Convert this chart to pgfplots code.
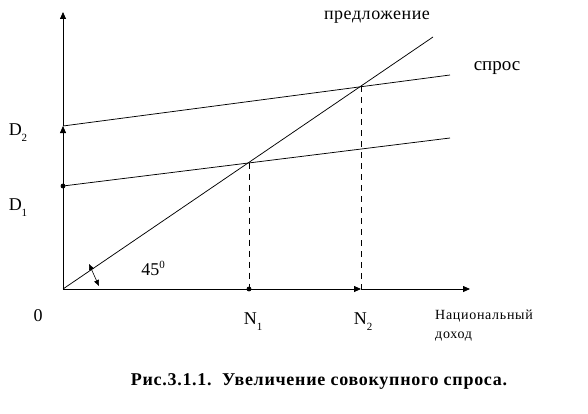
\documentclass[border=0pt]{standalone}
\usepackage{fontspec}
\setmainfont{Liberation Serif}
\usepackage{pgfplots}
\pgfplotsset{compat=1.18}
\usetikzlibrary{arrows.meta}

\newcommand{\sub}[1]{\raisebox{-6pt}{\fontsize{11}{12}\selectfont #1}}
\newcommand{\sups}[1]{\raisebox{7pt}{\fontsize{11}{12}\selectfont #1}}

\begin{document}
\begin{tikzpicture}
\begin{axis}[
    x=1pt, y=1pt,
    xmin=-63, xmax=525,
    ymin=-124, ymax=289,
    hide axis,
    clip=false,
    every axis plot/.append style={black, line width=0.8pt},
    ]
    % keep the whole page as the picture
    \path (rel axis cs:0,0) rectangle (rel axis cs:1,1);
    % axes, with extra arrowheads at D2 and N2
    \addplot[-{Triangle[length=7pt,width=6pt]}] coordinates {(0,0) (0,163)};
    \addplot[-{Triangle[length=7pt,width=6pt]}] coordinates {(0,163) (0,277)};
    \addplot[-{Triangle[length=7pt,width=6pt]}] coordinates {(0,0) (298,0)};
    \addplot[-{Triangle[length=7pt,width=6pt]}] coordinates {(298,0) (407,0)};
    % supply (45 degrees)
    \addplot[line width=0.75pt] coordinates {(0,0) (370,252)};
    % demand D1 and D2
    \addplot[line width=0.75pt] coordinates {(0,103) (387,151)};
    \addplot[line width=0.75pt] coordinates {(0,163) (387,214)};
    % dashed drops to N1, N2
    \addplot[line width=0.75pt, dash pattern=on 6pt off 5pt] coordinates {(186,126.5) (186,0)};
    \addplot[line width=0.75pt, dash pattern=on 6pt off 5pt] coordinates {(298,203) (298,0)};
    % dots
    \addplot[only marks, mark=*, mark size=2pt] coordinates {(0,103) (186,0)};
    % angle arrow
    \addplot[{Triangle[length=6pt,width=5pt]}-{Triangle[length=6pt,width=5pt]}, line width=0.6pt]
        coordinates {(26,25) (36,3)};

    % labels
    \node[font=\fontsize{18}{20}\selectfont] at (axis cs:-45,156) {D\sub{2}};
    \node[font=\fontsize{18}{20}\selectfont] at (axis cs:-45,81) {D\sub{1}};
    \node[font=\fontsize{18}{20}\selectfont] at (axis cs:-25,-27) {0};
    \node[font=\fontsize{18}{20}\selectfont] at (axis cs:190,-33) {N\sub{1}};
    \node[font=\fontsize{18}{20}\selectfont] at (axis cs:300,-33) {N\sub{2}};
    \node[font=\fontsize{18}{20}\selectfont] at (axis cs:90,21) {45\sups{0}};
    \node[font=\fontsize{19}{20}\selectfont] at (axis cs:434,221) {спрос};
    \node[font=\fontsize{18}{20}\selectfont\addfontfeatures{LetterSpace=3}] at (axis cs:314,272) {предложение};
    \node[font=\fontsize{14}{19}\selectfont\addfontfeatures{LetterSpace=5}, align=left, anchor=north west, inner sep=0pt] at (axis cs:372,-21)
        {Национальный\\доход};
    \node[font=\fontsize{18}{18}\bfseries\addfontfeatures{LetterSpace=4}] at (axis cs:256,-92)
        {Рис.3.1.1.\ \ Увеличение совокупного спроса.};
\end{axis}
\end{tikzpicture}
\end{document}
